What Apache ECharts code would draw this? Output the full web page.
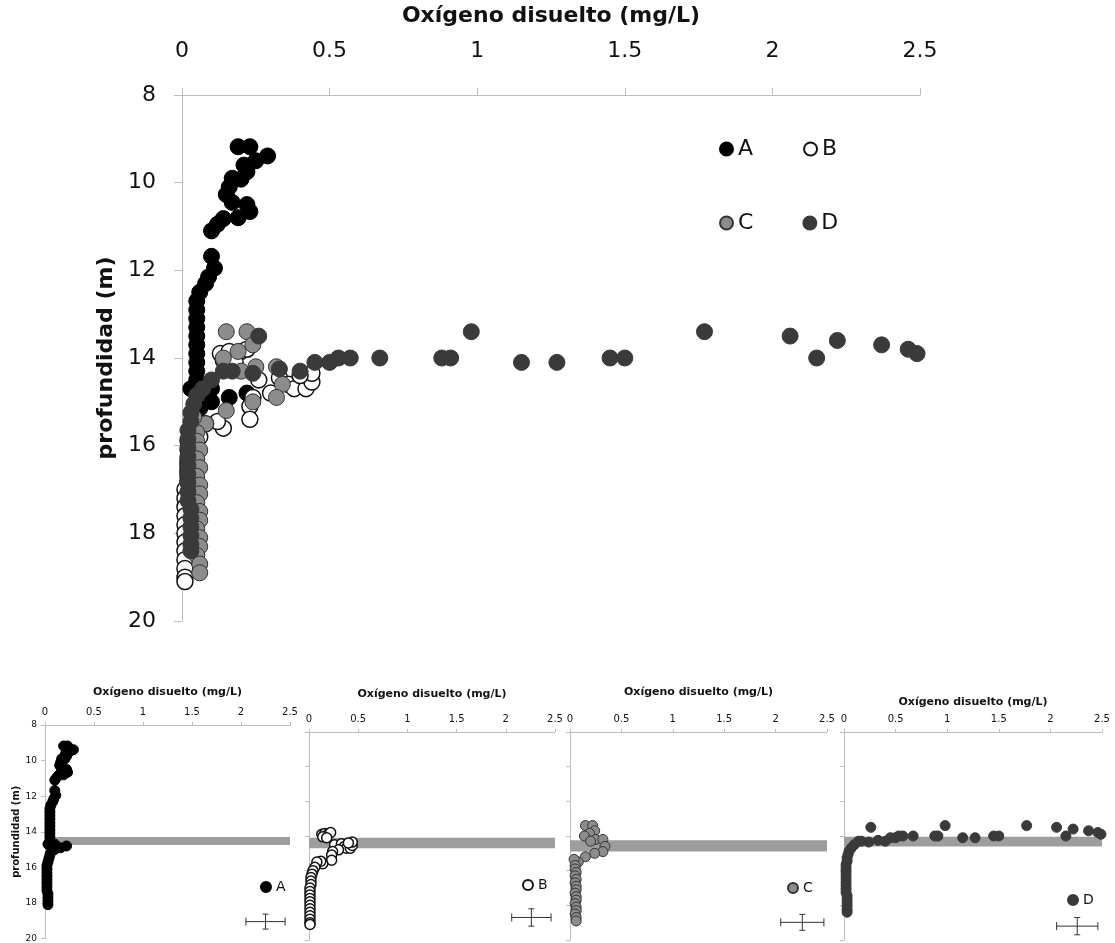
<!DOCTYPE html>
<html>
<head>
<meta charset="utf-8">
<script src="https://cdn.jsdelivr.net/npm/echarts@6/dist/echarts.min.js"></script>
<style>
html, body { margin: 0; padding: 0; background: #fff; }
#chart { width: 1115px; height: 943px; }
</style>
</head>
<body>
<div id="chart"></div>
<script>
// ticks
var oxTicks = [0, 0.5, 1, 1.5, 2, 2.5]
var depthTicks = [8, 10, 12, 14, 16, 18, 20]

// [oxigeno mg/L, profundidad m]
var seriesA = [
    [0.19, 9.18], [0.23, 9.18], [0.29, 9.39], [0.25, 9.5], [0.21, 9.6], [0.22, 9.75],
    [0.17, 9.9], [0.2, 9.92], [0.16, 10.1], [0.15, 10.27], [0.17, 10.45], [0.22, 10.5],
    [0.23, 10.66], [0.19, 10.8], [0.14, 10.82], [0.12, 10.95], [0.1, 11.1], [0.1, 11.68],
    [0.11, 11.95], [0.09, 12.15], [0.08, 12.3], [0.06, 12.5], [0.05, 12.7], [0.05, 12.9],
    [0.05, 13.1], [0.05, 13.3], [0.05, 13.5], [0.05, 13.7], [0.05, 13.9], [0.05, 14.1],
    [0.05, 14.3], [0.05, 14.5], [0.03, 14.7], [0.1, 14.7], [0.16, 14.9], [0.22, 14.8],
    [0.1, 15.0], [0.06, 15.15], [0.05, 15.3], [0.04, 15.5], [0.03, 15.7], [0.02, 15.9],
    [0.02, 16.1], [0.02, 16.3], [0.02, 16.5], [0.02, 16.7], [0.02, 16.9], [0.02, 17.1],
    [0.02, 17.3], [0.03, 17.5], [0.03, 17.7], [0.03, 17.9], [0.03, 18.1]
]
var seriesB = [
    [0.13, 13.9], [0.16, 13.85], [0.2, 13.85], [0.22, 13.8], [0.14, 14.05], [0.18, 14.1],
    [0.26, 14.5], [0.33, 14.45], [0.36, 14.6], [0.38, 14.7], [0.42, 14.7], [0.44, 14.55],
    [0.44, 14.35], [0.4, 14.4], [0.3, 14.8], [0.24, 14.9], [0.23, 15.1], [0.23, 15.4],
    [0.14, 15.6], [0.12, 15.45], [0.08, 15.5], [0.06, 15.8], [0.04, 16.0], [0.03, 16.2],
    [0.02, 16.4], [0.02, 16.6], [0.02, 16.8], [0.01, 17.0], [0.01, 17.2], [0.01, 17.4],
    [0.01, 17.6], [0.01, 17.8], [0.01, 18.0], [0.01, 18.2], [0.01, 18.4], [0.01, 18.6],
    [0.01, 18.8], [0.01, 19.0], [0.01, 19.1]
]
var seriesC = [
    [0.15, 13.4], [0.22, 13.4], [0.24, 13.7], [0.19, 13.85], [0.14, 14.0], [0.25, 14.2],
    [0.2, 14.3], [0.32, 14.2], [0.34, 14.6], [0.32, 14.9], [0.24, 15.0], [0.15, 15.2],
    [0.08, 15.5], [0.04, 15.35], [0.05, 15.7], [0.05, 15.9], [0.06, 16.1], [0.05, 16.3],
    [0.06, 16.5], [0.05, 16.7], [0.06, 16.9], [0.06, 17.1], [0.05, 17.3], [0.06, 17.5],
    [0.06, 17.7], [0.05, 17.9], [0.06, 18.1], [0.06, 18.3], [0.05, 18.5], [0.06, 18.7],
    [0.06, 18.9]
]
var seriesD = [
    [0.26, 13.5], [0.14, 14.3], [0.17, 14.3], [0.24, 14.35], [0.33, 14.25], [0.4, 14.3],
    [0.45, 14.1], [0.5, 14.1], [0.53, 14.0], [0.57, 14.0], [0.67, 14.0], [0.88, 14.0],
    [0.91, 14.0], [0.98, 13.4], [1.15, 14.1], [1.27, 14.1], [1.45, 14.0], [1.5, 14.0],
    [1.77, 13.4], [2.06, 13.5], [2.15, 14.0], [2.22, 13.6], [2.37, 13.7], [2.46, 13.8],
    [2.49, 13.9], [0.1, 14.5], [0.07, 14.7], [0.05, 14.85], [0.04, 15.05], [0.03, 15.25],
    [0.03, 15.45], [0.02, 15.65], [0.02, 15.85], [0.02, 16.05], [0.02, 16.25], [0.02, 16.45],
    [0.02, 16.65], [0.02, 16.85], [0.02, 17.05], [0.02, 17.25], [0.03, 17.45], [0.03, 17.65],
    [0.03, 17.85], [0.03, 18.05], [0.03, 18.25], [0.03, 18.4]
]

// franja gris de cada panel [desde, hasta] (m)
var bands = [[14.3, 14.75], [14.1, 14.7], [14.25, 14.9], [14.05, 14.6]]
// barra de error [x, y, dx, dy]
var errBars = [[2.25, 19.05, 0.2, 0.42], [2.26, 18.7, 0.2, 0.5], [2.26, 18.98, 0.21, 0.46], [2.26, 19.2, 0.2, 0.5]]

var names = ['A', 'B', 'C', 'D']
var allData = [seriesA, seriesB, seriesC, seriesD]
var styles = [
    { color: '#000', borderColor: '#000', borderWidth: 1, opacity: 1 },
    { color: '#fff', borderColor: '#111', borderWidth: 1.5, opacity: 1 },
    { color: '#8c8c8c', borderColor: '#333', borderWidth: 1, opacity: 1 },
    { color: '#3a3a3a', borderColor: '#3a3a3a', borderWidth: 1, opacity: 1 }
]

var FONT = 'DejaVu Sans'
var axisGray = '#bdbdbd'

var chart = echarts.init(document.getElementById('chart'))

// grids: main + 4 small panels
var grids = [
    { left: 182, right: 195, top: 93, bottom: 322 },
    { left: 45, right: 825, top: 725, bottom: 3 },
    { left: 309, right: 560, top: 732, bottom: 3 },
    { left: 570, right: 288, top: 732, bottom: 3 },
    { left: 844, right: 13, top: 732, bottom: 3 }
]
var titleGaps = [68, 27, 32, 34, 24]

var xAxes = [], yAxes = []
grids.forEach(function (g, i) {
    var big = i === 0
    xAxes.push({
        gridIndex: i, type: 'value', position: 'top', min: 0, max: 2.5, interval: 0.5,
        name: 'Oxígeno disuelto (mg/L)', nameLocation: 'middle', nameGap: titleGaps[i],
        nameTextStyle: { fontFamily: FONT, fontWeight: 'bold', fontSize: big ? 22 : 11, color: '#111' },
        axisLine: { lineStyle: { color: axisGray, width: 1 } },
        axisTick: { lineStyle: { color: axisGray }, length: big ? 7 : 3 },
        splitLine: { show: false },
        axisLabel: { fontFamily: FONT, fontSize: big ? 22 : 10, color: '#111', margin: big ? 33 : 8 }
    })
    yAxes.push({
        gridIndex: i, type: 'value', inverse: true, min: 8, max: 20, interval: 2,
        name: (i < 2) ? 'profundidad (m)' : '', nameLocation: 'middle', nameGap: big ? 58 : 24,
        nameTextStyle: { fontFamily: FONT, fontWeight: 'bold', fontSize: big ? 22 : 10, color: '#111' },
        axisLine: { show: true, lineStyle: { color: axisGray, width: 1 } },
        axisTick: { lineStyle: { color: axisGray }, length: big ? 8 : 4 },
        splitLine: { show: false },
        axisLabel: { show: i < 2, fontFamily: FONT, fontSize: big ? 22 : 9, color: '#111', margin: big ? 26 : 8 }
    })
})

function renderErr(params, api) {
    var x = api.value(0), y = api.value(1), dx = api.value(2), dy = api.value(3)
    var c = api.coord([x, y])
    var l = api.coord([x - dx, y])
    var r = api.coord([x + dx, y])
    var t = api.coord([x, y - dy])
    var b = api.coord([x, y + dy])
    var st = { stroke: '#333', lineWidth: 1, fill: null }
    return {
        type: 'group',
        children: [
            { type: 'line', shape: { x1: l[0], y1: c[1], x2: r[0], y2: c[1] }, style: st },
            { type: 'line', shape: { x1: l[0], y1: c[1] - 4, x2: l[0], y2: c[1] + 4 }, style: st },
            { type: 'line', shape: { x1: r[0], y1: c[1] - 4, x2: r[0], y2: c[1] + 4 }, style: st },
            { type: 'line', shape: { x1: c[0], y1: t[1], x2: c[0], y2: b[1] }, style: st },
            { type: 'line', shape: { x1: c[0] - 3, y1: t[1], x2: c[0] + 3, y2: t[1] }, style: st },
            { type: 'line', shape: { x1: c[0] - 3, y1: b[1], x2: c[0] + 3, y2: b[1] }, style: st }
        ]
    }
}

var series = []
// main chart
names.forEach(function (n, k) {
    series.push({
        name: n, type: 'scatter', xAxisIndex: 0, yAxisIndex: 0,
        data: allData[k], symbolSize: 16, itemStyle: styles[k], z: 3 + k
    })
})
// small panels
names.forEach(function (n, k) {
    var gi = k + 1
    series.push({
        name: 'band' + n, type: 'scatter', xAxisIndex: gi, yAxisIndex: gi, data: [], z: 1,
        markArea: {
            silent: true,
            itemStyle: { color: '#9d9d9d', opacity: 1 },
            data: [[{ yAxis: bands[k][0] }, { yAxis: bands[k][1] }]]
        }
    })
    series.push({
        name: n, type: 'scatter', xAxisIndex: gi, yAxisIndex: gi,
        data: allData[k], symbolSize: 10, itemStyle: styles[k], z: 3
    })
    series.push({
        name: 'err' + n, type: 'custom', xAxisIndex: gi, yAxisIndex: gi,
        data: [errBars[k]], renderItem: renderErr, z: 3
    })
})

var legendText = { fontFamily: FONT, fontSize: 22, color: '#111' }
var smallText = { fontFamily: FONT, fontSize: 14, color: '#111' }
var legends = [
    { data: ['A', 'B'], left: 714, top: 133, itemGap: 50, itemWidth: 13, itemHeight: 13, icon: 'circle', textStyle: legendText, selectedMode: false },
    { data: ['C', 'D'], left: 714, top: 207, itemGap: 49, itemWidth: 13, itemHeight: 13, icon: 'circle', textStyle: legendText, selectedMode: false },
    { data: ['A'], left: 255, top: 875, itemWidth: 10, itemHeight: 10, icon: 'circle', textStyle: smallText, selectedMode: false },
    { data: ['B'], left: 517, top: 873, itemWidth: 10, itemHeight: 10, icon: 'circle', textStyle: smallText, selectedMode: false },
    { data: ['C'], left: 782, top: 876, itemWidth: 10, itemHeight: 10, icon: 'circle', textStyle: smallText, selectedMode: false },
    { data: ['D'], left: 1062, top: 888, itemWidth: 10, itemHeight: 10, icon: 'circle', textStyle: smallText, selectedMode: false }
]

var option = {
    backgroundColor: '#fff',
    animation: false,
    grid: grids,
    xAxis: xAxes,
    yAxis: yAxes,
    legend: legends,
    series: series
}
chart.setOption(option)
</script>
</body>
</html>
